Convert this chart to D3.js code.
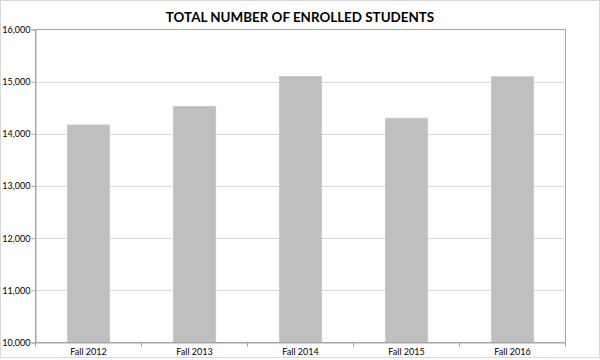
<!DOCTYPE html>
<html><head><meta charset="utf-8">
<script src="https://cdn.jsdelivr.net/npm/d3@7"></script>
<style>body{margin:0;background:#fff;} svg{display:block;}</style>
</head><body>
<script>
const categories = ["Fall 2012","Fall 2013","Fall 2014","Fall 2015","Fall 2016"];
const enrolled = [14170, 14525, 15100, 14300, 15095];
const yTicks = [10000,11000,12000,13000,14000,15000,16000];
const title = "TOTAL NUMBER OF ENROLLED STUDENTS";

const W=600,H=360;
const m={left:35.5,right:34.5,top:29.5,bottom:17.5};
const svg=d3.select("body").append("svg").attr("width",W).attr("height",H);
svg.append("rect").attr("x",0.5).attr("y",0.5).attr("width",W-1).attr("height",H-3).attr("fill","#fff").attr("stroke","#d9d9d9");
const x=d3.scaleBand().domain(categories).range([m.left,W-m.right]).paddingInner(0.6).paddingOuter(0.3);
const y=d3.scaleLinear().domain([10000,16000]).range([H-m.bottom,m.top]);
const font="Lato, 'Open Sans', sans-serif";

svg.append("text").attr("x",300).attr("y",22).attr("text-anchor","middle")
  .attr("font-family",font).attr("font-weight","bold").attr("font-size",13.4).attr("fill","#000").text(title);

// gridlines
svg.append("g").selectAll("line").data(yTicks.slice(1,-1)).join("line")
  .attr("x1",m.left).attr("x2",W-m.right).attr("y1",d=>Math.round(y(d))+0.5).attr("y2",d=>Math.round(y(d))+0.5)
  .attr("stroke","#d9d9d9");

// bars
svg.append("g").selectAll("rect").data(enrolled).join("rect")
  .attr("x",(d,i)=>x(categories[i])).attr("width",x.bandwidth())
  .attr("y",d=>y(d)).attr("height",d=>y(10000)-y(d))
  .attr("fill","#bfbfbf").attr("stroke","#c8c8c8").attr("stroke-width",0.8);

// plot border
svg.append("rect").attr("x",m.left).attr("y",m.top).attr("width",W-m.left-m.right).attr("height",H-m.top-m.bottom)
  .attr("fill","none").attr("stroke","#a6a6a6");

// y axis
const ya=svg.append("g").attr("transform",`translate(${m.left},0)`)
  .call(d3.axisLeft(y).tickValues(yTicks).tickFormat(d3.format(",")).tickSize(4).tickPadding(1));
ya.select(".domain").attr("stroke","#a6a6a6");
ya.selectAll(".tick line").attr("stroke","#a6a6a6");
ya.selectAll("text").attr("font-family",font).attr("font-size",9).attr("fill","#000");

// x axis
const xa=svg.append("g").attr("transform",`translate(0,${H-m.bottom})`)
  .call(d3.axisBottom(x).tickSize(0).tickPadding(6));
xa.select(".domain").attr("stroke","#a6a6a6");
xa.selectAll("text").attr("font-family",font).attr("font-size",9).attr("fill","#000");
const step=(W-m.left-m.right)/categories.length;
svg.append("g").selectAll("line").data(d3.range(categories.length+1)).join("line")
  .attr("x1",i=>m.left+i*step).attr("x2",i=>m.left+i*step)
  .attr("y1",H-m.bottom).attr("y2",H-m.bottom+4).attr("stroke","#a6a6a6");
</script>
</body></html>
